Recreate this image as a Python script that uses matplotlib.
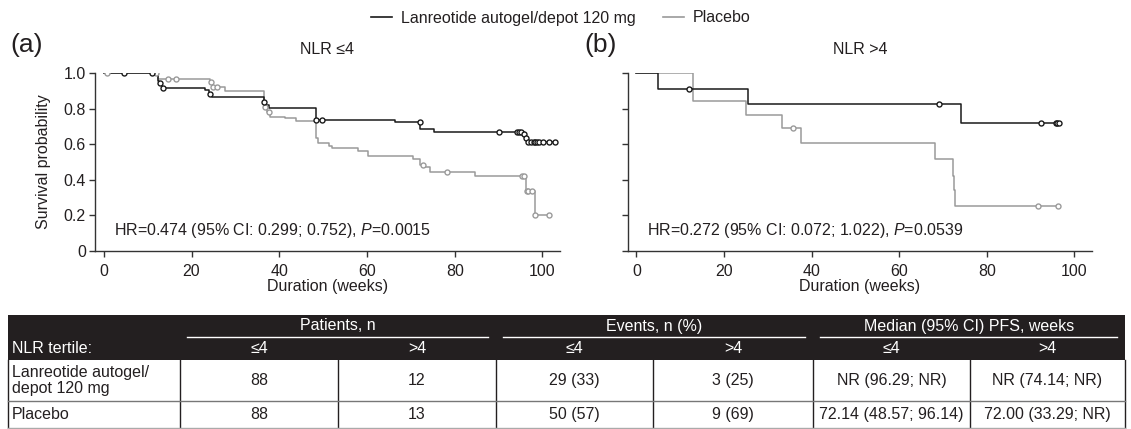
import numpy as np
import matplotlib
matplotlib.use('Agg')
import matplotlib.pyplot as plt
from matplotlib.lines import Line2D
from matplotlib.patches import Rectangle

plt.rcParams['font.family'] = ['Liberation Sans', 'DejaVu Sans']
plt.rcParams['font.size'] = 11.5
plt.rcParams['mathtext.fontset'] = 'custom'
plt.rcParams['mathtext.rm'] = 'Liberation Sans'
plt.rcParams['mathtext.it'] = 'Liberation Sans:italic'

TXT = '#231f20'
C_LAN = '#1a1a1a'
C_PBO = '#9a9a9a'

# --- KM curves, NLR <=4 (panel a) ---
a_lan_t = [0, 12.4, 12.7, 13.2, 23.1, 24.1, 24.6, 36.5, 37.0, 37.7, 48.3, 66.5,
           72.1, 75.3, 95.7, 96.2, 96.6]
a_lan_s = [1.0, 0.955, 0.943, 0.915, 0.905, 0.882, 0.866, 0.837, 0.82, 0.805,
           0.737, 0.724, 0.684, 0.667, 0.656, 0.637, 0.611]
a_lan_cens = [4.6, 11.0, 12.8, 13.6, 24.2, 36.6, 48.4, 49.7, 72.0, 90.2, 94.2,
              94.6, 95.0, 95.9, 96.3, 96.8, 97.4, 98.0, 98.4, 98.8, 99.2, 100.2,
              101.4, 102.8]

a_pbo_t = [0, 12.4, 24.3, 24.7, 27.7, 36.6, 37.2, 38.0, 41.4, 43.8, 48.4, 48.8,
           51.3, 52.0, 57.9, 60.2, 70.5, 72.0, 72.8, 74.3, 84.7, 96.2, 98.3]
a_pbo_s = [1.0, 0.967, 0.953, 0.921, 0.902, 0.812, 0.784, 0.756, 0.746, 0.733,
           0.634, 0.606, 0.59, 0.577, 0.564, 0.536, 0.517, 0.483, 0.47, 0.442,
           0.421, 0.339, 0.202]
a_pbo_cens = [0.8, 11.9, 14.6, 16.4, 24.5, 25.0, 25.9, 36.8, 37.6, 72.7, 78.2,
              95.3, 95.9, 96.5, 96.8, 97.6, 98.4, 101.6]

# --- KM curves, NLR >4 (panel b) ---
b_lan_t = [0, 4.9, 25.4, 74.2]
b_lan_s = [1.0, 0.913, 0.827, 0.722]
b_lan_cens = [12.1, 69.1, 92.4, 95.7, 96.1, 96.4]

b_pbo_t = [0, 13.0, 25.0, 33.2, 37.6, 68.2, 72.2, 72.5, 72.7]
b_pbo_s = [1.0, 0.846, 0.765, 0.694, 0.606, 0.517, 0.423, 0.34, 0.254]
b_pbo_cens = [35.7, 91.7, 96.2]

hr_texts = ['HR=0.474 (95% CI: 0.299; 0.752), $\\mathit{P}$=0.0015',
            'HR=0.272 (95% CI: 0.072; 1.022), $\\mathit{P}$=0.0539']
titles = ['NLR \u22644', 'NLR >4']
panel_tags = ['(a)', '(b)']

# --- table ---
col_groups = ['Patients, n', 'Events, n (%)', 'Median (95% CI) PFS, weeks']
sub_groups = ['\u22644', '>4']
row_labels = ['Lanreotide autogel/\ndepot 120 mg', 'Placebo']
patients = [['88', '12'], ['88', '13']]
events = [['29 (33)', '3 (25)'], ['50 (57)', '9 (69)']]
medians = [['NR (96.29; NR)', 'NR (74.14; NR)'],
           ['72.14 (48.57; 96.14)', '72.00 (33.29; NR)']]


def km(ax, t, s, cens, color):
    t_end = max(max(t), max(cens))
    xs = list(t) + [t_end]
    ys = list(s) + [s[-1]]
    ax.step(xs, ys, where='post', color=color, lw=1.1, zorder=2)
    idx = np.searchsorted(t, cens, side='right') - 1
    cy = np.array(s)[idx]
    ax.plot(cens, cy, ls='none', marker='o', ms=3.6, mfc='white', mec=color,
            mew=1.0, zorder=3)


W, H = 1131, 429
fig = plt.figure(figsize=(W / 100, H / 100), dpi=100)

axes = [fig.add_axes([95 / W, 1 - 250.8 / H, 465 / W, 177.5 / H]),
        fig.add_axes([627.7 / W, 1 - 250.8 / H, 464.3 / W, 177.5 / H])]

curves = [[(a_lan_t, a_lan_s, a_lan_cens), (a_pbo_t, a_pbo_s, a_pbo_cens)],
          [(b_lan_t, b_lan_s, b_lan_cens), (b_pbo_t, b_pbo_s, b_pbo_cens)]]

for i, ax in enumerate(axes):
    (lt, ls, lc), (pt, ps, pc) = curves[i]
    km(ax, pt, ps, pc, C_PBO)
    km(ax, lt, ls, lc, C_LAN)
    ax.set_xlim(-2, 104)
    ax.set_ylim(0, 1.0)
    for sp in ['top', 'right']:
        ax.spines[sp].set_visible(False)
    for sp in ['left', 'bottom']:
        ax.spines[sp].set_color('#333333')
        ax.spines[sp].set_linewidth(1.0)
    ax.set_xticks([0, 20, 40, 60, 80, 100])
    ax.set_yticks([0, 0.2, 0.4, 0.6, 0.8, 1.0])
    ax.tick_params(colors='#333333', labelcolor=TXT, length=4.5, width=1.0,
                   labelsize=11.5, pad=2)
    ax.tick_params(axis='x', pad=5)
    ax.set_xlabel('Duration (weeks)', color=TXT, fontsize=11.5, labelpad=0)
    ax.set_title(titles[i], color=TXT, fontsize=11.5, pad=14)
    ax.text(2.4, 0.117, hr_texts[i], color=TXT, fontsize=11.5, va='center')

axes[0].set_yticklabels(['0', '0.2', '0.4', '0.6', '0.8', '1.0'])
axes[0].set_ylabel('Survival probability', color=TXT, fontsize=11.5)
axes[0].yaxis.set_label_coords(-0.095, 0.5)
axes[1].set_yticklabels([])

fig.text(10 / W, 1 - 45 / H, panel_tags[0], fontsize=19, color=TXT, va='center')
fig.text(584 / W, 1 - 45 / H, panel_tags[1], fontsize=19, color=TXT, va='center')

handles = [Line2D([], [], color=C_LAN, lw=1.2), Line2D([], [], color=C_PBO, lw=1.2)]
fig.legend(handles, ['Lanreotide autogel/depot 120 mg', 'Placebo'],
           loc='center', bbox_to_anchor=(561 / W, 1 - 18 / H), ncol=2,
           frameon=False, fontsize=11.5, handlelength=1.3, handletextpad=0.55,
           columnspacing=1.75, labelcolor=TXT)

# table drawn in pixel space
tab = fig.add_axes([0, 0, 1, 1], zorder=-1)
tab.set_xlim(0, W)
tab.set_ylim(H, 0)
tab.axis('off')

xb = [8, 180, 338, 496, 653, 813, 970, 1125]
y_top, y_mid, y_hdr, y_row, y_bot = 315, 337, 360, 401, 428

tab.add_patch(Rectangle((xb[0], y_top), xb[-1] - xb[0], y_hdr - y_top,
                        facecolor=TXT, edgecolor='none'))
for g, name in enumerate(col_groups):
    x0, x1 = xb[1 + 2 * g], xb[3 + 2 * g]
    tab.text((x0 + x1) / 2, 326, name, color='white', ha='center', va='center',
             fontsize=11.5)
    tab.plot([x0 + 7, x1 - 8], [y_mid, y_mid], color='white', lw=1.0)
    for k in range(2):
        tab.text((xb[1 + 2 * g + k] + xb[2 + 2 * g + k]) / 2, 348.5, sub_groups[k],
                 color='white', ha='center', va='center', fontsize=11.5)
tab.text(12, 348.5, 'NLR tertile:', color='white', ha='left', va='center',
         fontsize=11.5)

row_y = [(y_hdr + y_row) / 2, (y_row + y_bot) / 2]
for r in range(2):
    tab.text(12, row_y[r], row_labels[r], color=TXT, ha='left', va='center',
             fontsize=11.5, linespacing=1.15)
    cells = patients[r] + events[r] + medians[r]
    for c, val in enumerate(cells):
        tab.text((xb[c + 1] + xb[c + 2]) / 2, row_y[r], val, color=TXT,
                 ha='center', va='center', fontsize=11.5)

for x in xb:
    tab.plot([x, x], [y_hdr, y_bot], color=TXT, lw=1.0)
tab.plot([xb[0], xb[-1]], [y_row, y_row], color='#777777', lw=1.0)
tab.plot([xb[0], xb[-1]], [y_bot, y_bot], color='#aaaaaa', lw=1.0)

fig.savefig('out.png', dpi=100)
